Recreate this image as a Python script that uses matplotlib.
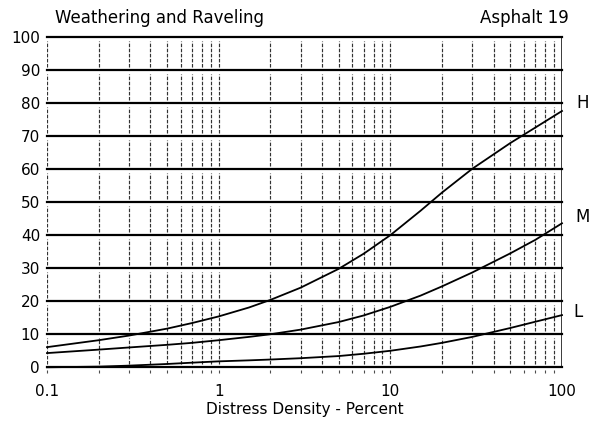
import numpy as np
import matplotlib
matplotlib.use("Agg")
import matplotlib.pyplot as plt
from matplotlib.ticker import FixedLocator, NullLocator

# Deduct value curves, weathering and raveling (asphalt), by severity level
density = [0.1, 0.2, 0.3, 0.5, 0.7, 1, 1.5, 2, 3, 5, 7, 10, 15, 20, 30, 50, 70, 100]
deduct_high = [6.1, 8.2, 9.6, 11.7, 13.4, 15.4, 18.1, 20.4, 24.1, 29.8, 34.4, 40.0,
               47.4, 52.9, 60.1, 67.9, 72.6, 77.6]
deduct_medium = [4.3, 5.35, 6.0, 6.8, 7.4, 8.2, 9.2, 10.0, 11.4, 13.7, 15.7, 18.3,
                 21.7, 24.5, 28.7, 34.5, 38.6, 43.6]
deduct_low = [0.0, 0.2, 0.5, 1.0, 1.4, 1.8, 2.1, 2.35, 2.75, 3.4, 4.1, 5.0,
              6.3, 7.4, 9.2, 11.9, 13.8, 15.8]
severity_labels = ["H", "M", "L"]

x_ticks = [0.1, 1, 10, 100]
x_tick_labels = ["0.1", "1", "10", "100"]
y_ticks = list(range(0, 101, 10))

fig = plt.figure(figsize=(5.98, 4.23), dpi=100)
ax = fig.add_axes([0.0786, 0.1317, 0.8612, 0.7808])
ax.set_xscale("log")
ax.set_xlim(0.1, 100)
ax.set_ylim(0, 100)

# dashed vertical grid at every log subdivision, broken at each band
minor_x = [m * 10.0 ** e for e in (-1, 0, 1) for m in range(1, 10)]
for xv in minor_x:
    for k in range(10):
        ax.vlines(xv, k * 10 + 1.0, k * 10 + 8.8, colors="0.2", linewidth=0.85,
                  linestyles=(0, (3.0, 1.3)), zorder=1)
    ax.vlines(xv, -1.8, -0.8, colors="0.3", linewidth=0.8, clip_on=False, zorder=1)
ax.vlines(100.0, 0, 100, colors="0.1", linewidth=1.2, zorder=1)

# heavy horizontal rules every 10
for yv in y_ticks:
    ax.axhline(yv, color="black", linewidth=1.6, zorder=2, clip_on=False)

for vals in (deduct_high, deduct_medium, deduct_low):
    ax.plot(density, vals, color="black", linewidth=1.3, zorder=3, clip_on=False,
            solid_joinstyle="round")

# severity letters just right of the plotting area
label_spots = [(1.040, 80.0), (1.040, 45.6), (1.032, 16.8)]
for lab, (lx, ly) in zip(severity_labels, label_spots):
    ax.text(lx, ly, lab, transform=ax.get_yaxis_transform(),
            fontsize=12, ha="center", va="center", color="black")

for s in ax.spines.values():
    s.set_visible(False)

ax.xaxis.set_major_locator(FixedLocator(x_ticks))
ax.xaxis.set_minor_locator(NullLocator())
ax.set_xticklabels(x_tick_labels)
ax.set_yticks(y_ticks)
ax.tick_params(axis="both", length=0, labelsize=11, colors="black")
ax.tick_params(axis="x", pad=12)
ax.tick_params(axis="y", pad=5)

ax.set_xlabel("Distress Density - Percent", fontsize=11, labelpad=2)

fig.text(0.092, 0.958, "Weathering and Raveling", fontsize=12, ha="left", va="center")
fig.text(0.951, 0.958, "Asphalt 19", fontsize=12, ha="right", va="center")

fig.savefig("out.png", dpi=100)
